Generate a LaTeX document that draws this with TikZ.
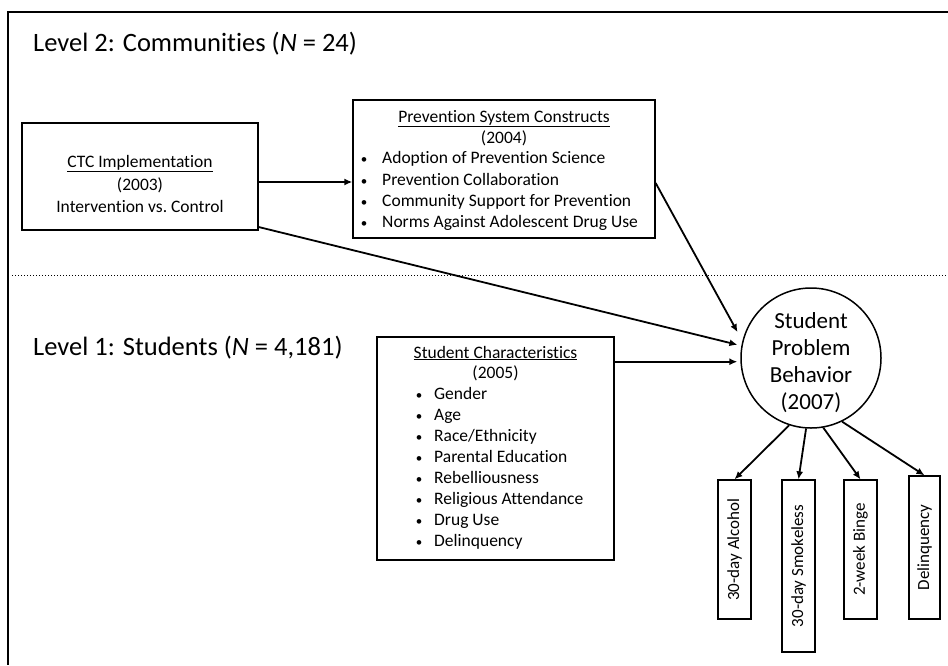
\documentclass[tikz,border=0pt]{standalone}
\usepackage{fontspec}
\setmainfont{Carlito}[Ligatures=NoCommon]
\usetikzlibrary{arrows.meta}
\newcommand{\smbul}{{\fontsize{13}{13}\selectfont\textbullet}}
\begin{document}
\begin{tikzpicture}[x=1pt,y=-1pt,
  box/.style={draw, line width=1.3pt, inner sep=0pt},
  arr/.style={line width=1.8pt, -{Latex[length=8pt,width=7pt]}},
  bt/.style={font=\fontsize{17.5}{20}\selectfont, inner sep=0pt},
  lt/.style={font=\fontsize{26.5}{30}\selectfont, inner sep=0pt, anchor=base west},
  ct/.style={font=\fontsize{23}{27}\selectfont, inner sep=0pt, anchor=base},
  rt/.style={font=\fontsize{17}{19}\selectfont},
]
\useasboundingbox (0,0) rectangle (948,665);
% frame
\coordinate (fa) at (948,12);
\coordinate (fb) at (8,12);
\coordinate (fc) at (8,665);
\draw[line width=2.5pt] (fa) -- (fb) -- (fc);
% level titles
\node[lt] (t2) at (33,51) {Level 2: Communities (\textit{N} = 24)};
\node[lt] (t1) at (33,355) {Level 1: Students (\textit{N} = 4,181)};
% dotted separator
\coordinate (da) at (12,275);
\coordinate (db) at (948,275);
\draw[dotted, line width=1pt] (da) -- (db);

% CTC box
\node[box, minimum width=236, minimum height=107] (ctc) at (140,176.5) {};
\node[bt, anchor=base] (ctc1) at (140,167) {\underline{CTC Implementation}};
\node[bt, anchor=base] (ctc2) at (140,190) {(2003)};
\node[bt, anchor=base] (ctc3) at (140,212) {Intervention vs.\ Control};

% Prevention box
\node[box, minimum width=302, minimum height=138] (prev) at (504,169) {};
\node[bt, anchor=base] (pv1) at (504,122) {\underline{Prevention System Constructs}};
\node[bt, anchor=base] (pv2) at (504,143) {(2004)};
\foreach \y/\t [count=\i] in {163/{Adoption of Prevention Science}, 185/{Prevention Collaboration}, 206/{Community Support for Prevention}, 227/{Norms Against Adolescent Drug Use}}{
  \node[bt, anchor=base] (pvb\i) at (364,\y) {\smbul};
  \node[bt, anchor=base west] (pvt\i) at (382,\y) {\t};
}

% Student characteristics box
\node[box, minimum width=237, minimum height=223] (sch) at (495.5,448.5) {};
\node[bt, anchor=base] (sc1) at (495.5,358) {\underline{Student Characteristics}};
\node[bt, anchor=base] (sc2) at (495.5,378) {(2005)};
\foreach \y/\t [count=\i] in {399/{Gender}, 420/{Age}, 441/{Race/Ethnicity}, 462/{Parental Education}, 483/{Rebelliousness}, 504/{Religious Attendance}, 525/{Drug Use}, 546/{Delinquency}}{
  \node[bt, anchor=base] (scb\i) at (419,\y) {\smbul};
  \node[bt, anchor=base west] (sct\i) at (434,\y) {\t};
}

% circle
\node[draw, circle, line width=1.5pt, minimum size=140, inner sep=0pt] (spb) at (811,358) {};
\node[ct] (sp1) at (811,328) {Student};
\node[ct] (sp2) at (811,355) {Problem};
\node[ct] (sp3) at (811,382) {Behavior};
\node[ct] (sp4) at (811,409) {(2007)};

% outcome boxes
\node[box, minimum width=33, minimum height=139] (o1) at (734.5,549.5) {};
\node[rt] (o1t) at (734.5,549.5) {\rotatebox{90}{30-day Alcohol}};
\node[box, minimum width=33, minimum height=172] (o2) at (798.5,566) {};
\node[rt] (o2t) at (798.5,566) {\rotatebox{90}{30-day Smokeless}};
\node[box, minimum width=33, minimum height=139] (o3) at (860.5,549.5) {};
\node[rt] (o3t) at (860.5,549.5) {\rotatebox{90}{2-week Binge}};
\node[box, minimum width=31, minimum height=143] (o4) at (924.5,547.5) {};
\node[rt] (o4t) at (924.5,547.5) {\rotatebox{90}{Delinquency}};

% arrows
\coordinate (h1) at (0,182);
\coordinate (h2) at (0,227);
\coordinate (h3) at (0,183);
\draw[arr] (ctc.east |- h1) -- (prev.west |- h1);
\draw[arr, shorten >=4pt] (ctc.east |- h2) -- (spb.170);
\draw[arr, shorten >=10pt] (prev.east |- h3) -- (spb.166);
\draw[arr, shorten >=3pt] (sch.east |- spb.183) -- (spb.183);
\draw[arr] (spb.-108) -- (o1.north);
\draw[arr] (spb.-94) -- (o2.north);
\draw[arr] (spb.-80) -- (o3.north);
\draw[arr] (spb.-64) -- (o4.north);
\end{tikzpicture}
\end{document}
